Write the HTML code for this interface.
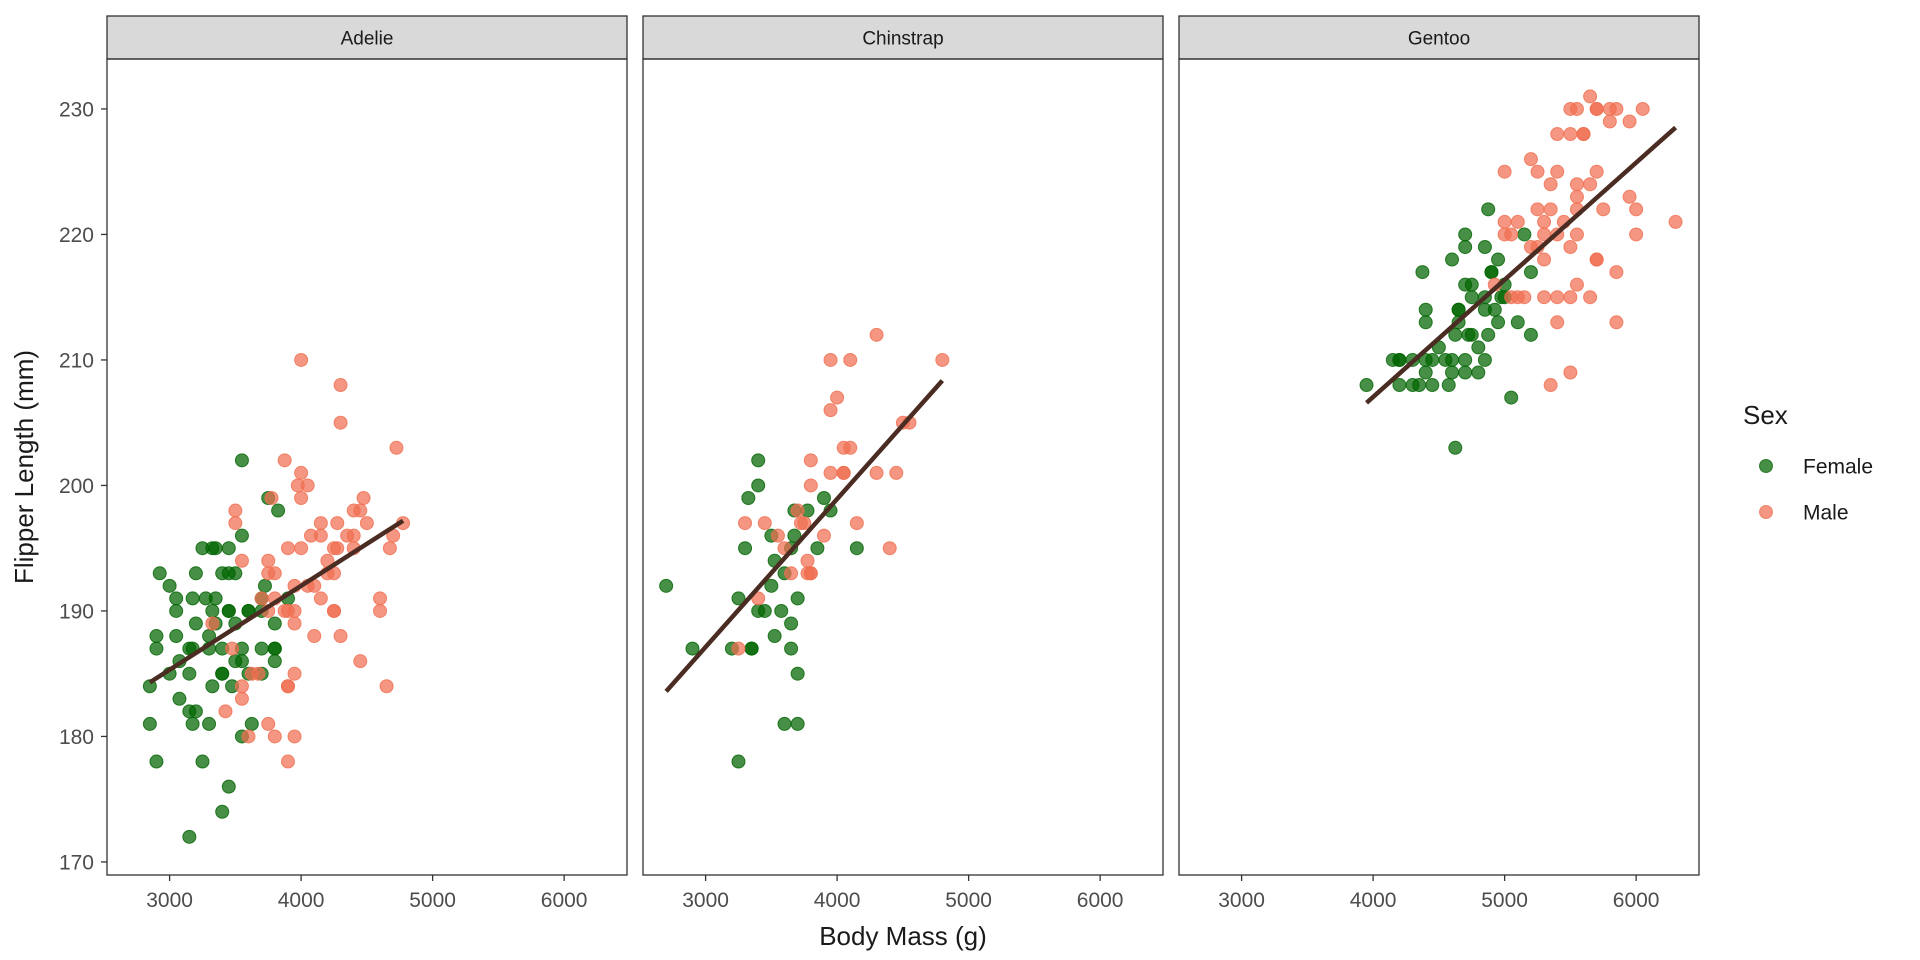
<!DOCTYPE html>
<html><head><meta charset="utf-8">
<style>
html,body{margin:0;padding:0;background:#fff;}
svg{display:block;font-family:"Liberation Sans",sans-serif;}
</style></head>
<body>
<svg id="chart" width="1920" height="960" viewBox="0 0 1920 960" xmlns="http://www.w3.org/2000/svg"></svg>
<script>
const species = ["Adelie","Chinstrap","Gentoo"];
const xTicks = [3000,4000,5000,6000];
const yTicks = [170,180,190,200,210,220,230];
// Adelie female: [mass, flipper]
const adelieFemale = [[2925,193],[3000,192],[3050,191],[3050,190],[2900,188],[2900,187],[3050,188],[3075,186],[3000,185],[2850,184],[3075,183],[3150,182],[3200,182],[2850,181],[3175,181],[3300,181],[2900,178],[3250,178],[3150,172],[3400,174],[3450,176],[3200,193],[3250,195],[3325,195],[3350,195],[3450,195],[3400,193],[3450,193],[3500,193],[3175,191],[3275,191],[3350,191],[3200,189],[3325,190],[3150,187],[3175,187],[3300,187],[3150,185],[3300,188],[3350,189],[3400,187],[3400,185],[3400,185],[3325,184],[3475,184],[3450,190],[3450,190],[3500,189],[3550,187],[3500,186],[3550,186],[3600,185],[3550,180],[3625,181],[3700,185],[3550,202],[3550,196],[3750,199],[3825,198],[3600,190],[3600,190],[3700,191],[3725,192],[3700,187],[3800,187],[3800,187],[3800,189],[3800,186],[3900,191],[3700,190]];
const adelieMale = [[4000,210],[4300,208],[4300,205],[4725,203],[3875,202],[4000,201],[3975,200],[4050,200],[4000,199],[3500,198],[3500,197],[3775,199],[4475,199],[4400,198],[4450,198],[4150,197],[4275,197],[4500,197],[4775,197],[4075,196],[4150,196],[4350,196],[4400,196],[4700,196],[3900,195],[4000,195],[4250,195],[4275,195],[4400,195],[4675,195],[3550,194],[3750,194],[4200,194],[3750,193],[3800,193],[4200,193],[4250,193],[3950,192],[4050,192],[4100,192],[3700,191],[3800,191],[4150,191],[4600,191],[3750,190],[3875,190],[3900,190],[3950,190],[4250,190],[4250,190],[4600,190],[3950,189],[3325,189],[4100,188],[4300,188],[3475,187],[4450,186],[3625,185],[3675,185],[3950,185],[3550,184],[3900,184],[3900,184],[4650,184],[3550,183],[3425,182],[3750,181],[3600,180],[3800,180],[3950,180],[3900,178]];
const chinstrapFemale = [[2700,192],[3400,202],[3400,200],[3325,199],[3900,199],[3675,198],[3775,198],[3950,198],[3500,196],[3675,196],[3300,195],[3650,195],[3850,195],[4150,195],[3525,194],[3600,193],[3500,192],[3250,191],[3700,191],[3400,190],[3450,190],[3575,190],[3650,189],[3525,188],[2900,187],[3200,187],[3350,187],[3350,187],[3650,187],[3700,185],[3600,181],[3700,181],[3250,178]];
const chinstrapMale = [[4300,212],[3950,210],[4100,210],[4800,210],[4000,207],[3950,206],[4500,205],[4550,205],[4050,203],[4100,203],[3800,202],[3950,201],[4050,201],[4050,201],[4300,201],[4450,201],[3800,200],[3700,198],[3300,197],[3450,197],[3725,197],[3750,197],[4150,197],[3550,196],[3900,196],[3600,195],[4400,195],[3775,194],[3650,193],[3775,193],[3800,193],[3800,193],[3400,191],[3250,187]];
const gentooFemale = [[3950,208],[4150,210],[4200,210],[4200,210],[4300,210],[4200,208],[4300,208],[4350,208],[4450,208],[4575,208],[4400,209],[4600,209],[4700,209],[4800,209],[4400,210],[4450,210],[4550,210],[4600,210],[4700,210],[4850,210],[4500,211],[4800,211],[4625,212],[4725,212],[4750,212],[4875,212],[5200,212],[4400,213],[4650,213],[4950,213],[5100,213],[4400,214],[4650,214],[4650,214],[4850,214],[4925,214],[4750,215],[4850,215],[4975,215],[5000,215],[4700,216],[4750,216],[5000,216],[4375,217],[4900,217],[4900,217],[5200,217],[4600,218],[4950,218],[4700,219],[4850,219],[4700,220],[5150,220],[4875,222],[5050,207],[4625,203]];
const gentooMale = [[5650,231],[5500,230],[5550,230],[5700,230],[5700,230],[5800,230],[5850,230],[6050,230],[5800,229],[5950,229],[5400,228],[5500,228],[5600,228],[5600,228],[5200,226],[5000,225],[5250,225],[5400,225],[5700,225],[5350,224],[5550,224],[5650,224],[5550,223],[5950,223],[5250,222],[5350,222],[5550,222],[5750,222],[6000,222],[5000,221],[5100,221],[5300,221],[5450,221],[6300,221],[5000,220],[5050,220],[5300,220],[5400,220],[5550,220],[6000,220],[5200,219],[5250,219],[5500,219],[5300,218],[5700,218],[5700,218],[5850,217],[4925,216],[5550,216],[5050,215],[5100,215],[5150,215],[5300,215],[5400,215],[5500,215],[5650,215],[5400,213],[5850,213],[5500,209],[5350,208]];

const femaleByPanel = [adelieFemale, chinstrapFemale, gentooFemale];
const maleByPanel = [adelieMale, chinstrapMale, gentooMale];

const NS = "http://www.w3.org/2000/svg";
const svg = document.getElementById("chart");
const panelLefts = [107, 643, 1179];
const panelW = 520, panelTop = 59, panelBottom = 875, stripTop = 16;
const xMin = 2524, xMax = 6478, yMin = 168.96, yMax = 233.98;
function sx(p, v){ return panelLefts[p] + (v - xMin) / (xMax - xMin) * panelW; }
function sy(v){ return panelBottom - (v - yMin) / (yMax - yMin) * (panelBottom - panelTop); }
function mk(tag, attrs, parent){ const e=document.createElementNS(NS,tag); for(const k in attrs) e.setAttribute(k, attrs[k]); (parent||svg).appendChild(e); return e; }

species.forEach((sp, p) => {
  const L = panelLefts[p];
  const g = mk("g", {});
  
  
  const bg = mk("rect", {x:L, y:panelTop, width:panelW, height:panelBottom-panelTop, fill:"#fff"}, g);
  
  
  const strip = mk("rect", {x:L, y:stripTop, width:panelW, height:panelTop-stripTop, fill:"#d9d9d9", stroke:"#333", "stroke-width":1.3}, g);
  
  
  const st = mk("text", {x:L+panelW/2, y:(stripTop+panelTop)/2+7, "text-anchor":"middle", "font-size":19, fill:"#1a1a1a"}, g);
  st.textContent = sp;
  
  
  // x ticks
  xTicks.forEach(t => {
    const X = sx(p, t);
    const tk = mk("line", {x1:X, x2:X, y1:panelBottom, y2:panelBottom+6, stroke:"#333", "stroke-width":1.3}, g);
    
    
    const tl = mk("text", {x:X, y:panelBottom+32, "text-anchor":"middle", "font-size":21, fill:"#4d4d4d"}, g);
    tl.textContent = t;
    
    
  });
  // points
  [[femaleByPanel[p], "rgba(0,100,0,0.72)", "rgba(0,100,0,0.8)", "point-female"], [maleByPanel[p], "rgba(240,110,80,0.72)", "rgba(240,110,80,0.8)", "point-male"]].forEach(([arr, fill, stroke, nm]) => {
    arr.forEach(d => {
      const c = mk("circle", {cx:sx(p,d[0]), cy:sy(d[1]), r:6.5, fill:fill, stroke:stroke, "stroke-width":1}, g);
      
      
    });
  });
  // regression line (least squares)
  const all = femaleByPanel[p].concat(maleByPanel[p]);
  const n = all.length;
  let mx=0,my=0; all.forEach(d=>{mx+=d[0];my+=d[1];}); mx/=n; my/=n;
  let sxy=0,sxx=0; all.forEach(d=>{sxy+=(d[0]-mx)*(d[1]-my); sxx+=(d[0]-mx)**2;});
  const b = sxy/sxx, a = my - b*mx;
  const x0 = Math.min(...all.map(d=>d[0])), x1 = Math.max(...all.map(d=>d[0]));
  const ln = mk("line", {x1:sx(p,x0), y1:sy(a+b*x0), x2:sx(p,x1), y2:sy(a+b*x1), stroke:"#4a2c22", "stroke-width":4.5}, g);
  
  
  const border = mk("rect", {x:L, y:panelTop, width:panelW, height:panelBottom-panelTop, fill:"none", stroke:"#333", "stroke-width":1.3}, g);
  
  
});
// y axis
yTicks.forEach(t => {
  const Y = sy(t);
  const tk = mk("line", {x1:101, x2:107, y1:Y, y2:Y, stroke:"#333", "stroke-width":1.3});
  
  
  const tl = mk("text", {x:94, y:Y+7.5, "text-anchor":"end", "font-size":21, fill:"#4d4d4d"});
  tl.textContent = t;
  
  
});
const yt = mk("text", {x:0, y:0, transform:"translate(33,467) rotate(-90)", "text-anchor":"middle", "font-size":26, fill:"#1a1a1a"});
yt.textContent = "Flipper Length (mm)";


const xt = mk("text", {x:903, y:945, "text-anchor":"middle", "font-size":26, fill:"#1a1a1a"});
xt.textContent = "Body Mass (g)";


// legend
const lt = mk("text", {x:1743, y:424, "font-size":26, fill:"#1a1a1a"});
lt.textContent = "Sex";


[["Female","rgba(0,100,0,0.72)",466],["Male","rgba(240,110,80,0.72)",512]].forEach(([lab,col,y]) => {
  const c = mk("circle", {cx:1766, cy:y, r:6.5, fill:col, stroke:col, "stroke-width":1});
  
  
  const t = mk("text", {x:1803, y:y+7.5, "font-size":21, fill:"#1a1a1a"});
  t.textContent = lab;
  
  
});
</script>
</body></html>
